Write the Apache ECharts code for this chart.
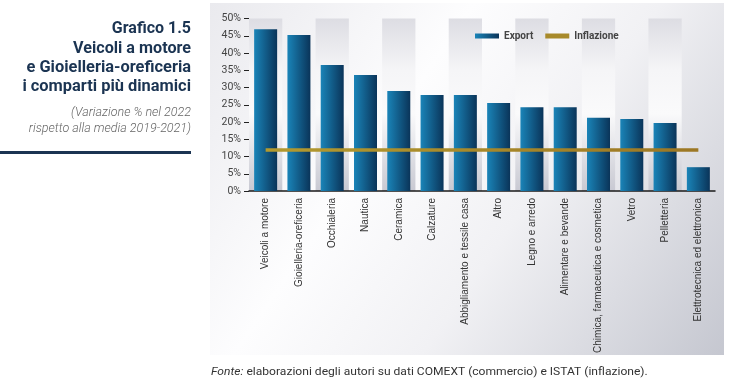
<!DOCTYPE html>
<html>
<head>
<meta charset="utf-8">
<script src="https://cdn.jsdelivr.net/npm/echarts@6/dist/echarts.min.js"></script>
<style>
html,body{margin:0;padding:0;background:#fff;}
#c{width:729px;height:391px;}
</style>
</head>
<body>
<div id="c"></div>
<script>
var categories = ['Veicoli a motore','Gioielleria-oreficeria','Occhialeria','Nautica','Ceramica','Calzature','Abbigliamento e tessile casa','Altro','Legno e arredo','Alimentare e bevande','Chimica, farmaceutica e cosmetica','Vetro','Pelletteria','Elettrotecnica ed elettronica'];
var exportValues = [46.9, 45.2, 36.5, 33.6, 29.0, 27.8, 27.8, 25.5, 24.3, 24.3, 21.2, 20.9, 19.7, 6.9];
var inflazioneValues = [11.9, 11.9, 11.9, 11.9, 11.9, 11.9, 11.9, 11.9, 11.9, 11.9, 11.9, 11.9, 11.9, 11.9];
var yTicks = [0, 5, 10, 15, 20, 25, 30, 35, 40, 45, 50];

var titleLines = ['Grafico 1.5', 'Veicoli a motore', 'e Gioielleria-oreficeria', 'i comparti più dinamici'];
var subtitleLines = ['(Variazione % nel 2022', 'rispetto alla media 2019-2021)'];

var chart = echarts.init(document.getElementById('c'), null, {renderer: 'canvas'});

function lg(x, y, x2, y2, stops) {
  return new echarts.graphic.LinearGradient(x, y, x2, y2, stops.map(function (s) { return {offset: s[0], color: s[1]}; }));
}

var barGrad = lg(0, 0, 1, 0, [[0, '#1a84b8'], [1, '#0a3459']]);
var lineGrad = lg(0, 0, 1, 0, [[0, '#b39a2f'], [1, '#9c7724']]);
var bandGrad = lg(0, 0, 0, 1, [[0, '#dddde3'], [0.3, '#f5f5f7'], [0.55, '#fafafb'], [1, '#c8c9d2']]);

var graphics = [
  {
    type: 'rect', z: -10, silent: true,
    shape: {x: 210, y: 3, width: 514, height: 352},
    style: {fill: lg(0, 0, 1, 1, [[0, '#eaeaee'], [0.35, '#fdfdfe'], [0.6, '#f1f1f4'], [1, '#c5c7d0']])}
  },
  {
    type: 'rect', silent: true,
    shape: {x: 0, y: 151, width: 191, height: 3},
    style: {fill: '#1b3452'}
  },
  {
    type: 'text', silent: true,
    x: 211, y: 366, scaleX: 1.05,
    style: {
      x: 0, y: 0,
      text: '{i|Fonte:} elaborazioni degli autori su dati COMEXT (commercio) e ISTAT (inflazione).',
      verticalAlign: 'top',
      font: '11.5px Roboto', fill: '#333',
      rich: {i: {fontStyle: 'italic', fontFamily: 'Roboto', fontSize: 11.5, fill: '#333'}}
    }
  }
];
var titleTop = [21, 41, 59.5, 79];
var titleScale = [1, 1.01, 1.025, 1.025];
titleLines.forEach(function (t, i) {
  graphics.push({type: 'text', silent: true, x: 191, y: titleTop[i], scaleX: titleScale[i], style: {
    x: 0, y: 0, text: t, align: 'right', verticalAlign: 'top',
    font: 'bold 16px Roboto', fill: '#1b3452'
  }});
});
var subTop = [106, 122];
subtitleLines.forEach(function (t, i) {
  graphics.push({type: 'text', silent: true, x: 191, y: subTop[i], style: {
    x: 0, y: 0, text: t, align: 'right', verticalAlign: 'top',
    font: 'italic 300 12.5px Roboto', fill: '#666'
  }});
});

chart.setOption({
  animation: false,
  graphic: graphics,
  legend: {
    left: 470, top: 26,
    itemWidth: 24, itemHeight: 5, itemGap: 12,
    textStyle: {fontFamily: 'Roboto', fontWeight: 'bold', fontSize: 10, color: '#444'},
    data: [
      {name: 'Export', icon: 'rect', itemStyle: {color: barGrad}},
      {name: 'Inflazione', icon: 'rect', itemStyle: {color: '#a88a2b'}}
    ]
  },
  grid: {left: 249, right: 14, top: 18.5, bottom: 200, containLabel: false},
  xAxis: {
    type: 'category',
    data: categories,
    axisLine: {show: true, lineStyle: {color: '#1a1a1a', width: 1.5}},
    axisTick: {show: false},
    splitArea: {show: true, areaStyle: {color: [bandGrad, 'rgba(255,255,255,0)']}},
    axisLabel: {
      rotate: 90, interval: 0, margin: 7,
      fontFamily: 'Liberation Sans', fontSize: 10, color: '#333'
    }
  },
  yAxis: {
    type: 'value',
    min: 0, max: 50, interval: 5,
    axisLine: {show: false},
    axisTick: {show: true, length: 5, lineStyle: {color: '#222', width: 1}},
    splitLine: {show: false},
    axisLabel: {
      margin: 8,
      fontFamily: 'Roboto', fontSize: 10.5, color: '#444',
      formatter: function (v) { return yTicks.indexOf(v) >= 0 ? v + '%' : ''; }
    }
  },
  series: [
    {
      name: 'Export', type: 'bar', data: exportValues,
      barWidth: 23,
      itemStyle: {color: barGrad}
    },
    {
      name: 'Inflazione', type: 'line', data: inflazioneValues,
      symbol: 'none', z: 5,
      lineStyle: {color: lineGrad, width: 3.5}
    }
  ]
});
</script>
</body>
</html>
